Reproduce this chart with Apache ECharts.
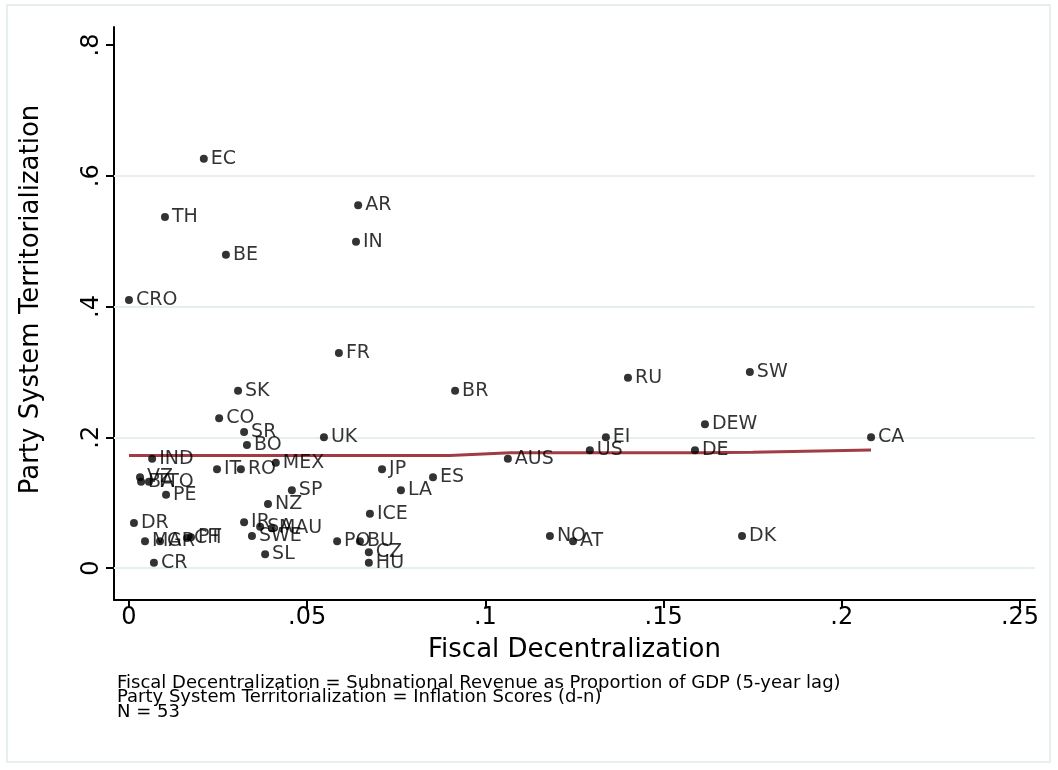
<!DOCTYPE html>
<html>
<head>
<meta charset="utf-8">
<script src="https://cdn.jsdelivr.net/npm/echarts@6/dist/echarts.min.js"></script>
<style>
  html, body { margin: 0; padding: 0; background: #ffffff; }
  #chart { width: 1058px; height: 770px; }
</style>
</head>
<body>
<div id="chart"></div>
<script>
// Country codes and their values
const countries = ['EC','AR','IN','TH','BE','CRO','FR','SK','BR','RU','SW','CO','SR','BO','UK','DEW','EI','CA','US','DE','AUS','IND','IT','RO','MEX','JP','ES','LA','SP','NZ','ICE','VZ','BA','TTO','PE','DR','MA','GR','CH','PT','CR','IR','SA','MAU','SWE','SL','PO','BU','CZ','HU','NO','AT','DK'];
// Subnational revenue as proportion of GDP (5-year lag)
const fiscalDecentralization = [0.0210,0.0643,0.0637,0.0101,0.0272,0.0000,0.0589,0.0306,0.0915,0.1400,0.1742,0.0253,0.0323,0.0331,0.0547,0.1616,0.1338,0.2082,0.1293,0.1588,0.1063,0.0065,0.0247,0.0314,0.0412,0.0710,0.0853,0.0763,0.0457,0.0390,0.0676,0.0031,0.0034,0.0056,0.0104,0.0014,0.0045,0.0087,0.0163,0.0174,0.0070,0.0323,0.0368,0.0401,0.0345,0.0382,0.0584,0.0648,0.0673,0.0673,0.1181,0.1246,0.1720];
// Inflation scores (d-n)
const territorialization = [0.626,0.555,0.499,0.537,0.479,0.410,0.329,0.271,0.271,0.291,0.300,0.229,0.208,0.188,0.200,0.220,0.200,0.200,0.180,0.180,0.167,0.167,0.151,0.151,0.161,0.151,0.139,0.119,0.119,0.098,0.083,0.139,0.132,0.132,0.112,0.069,0.041,0.041,0.046,0.047,0.008,0.070,0.063,0.061,0.049,0.021,0.041,0.041,0.024,0.008,0.049,0.041,0.049];

// Lowess smooth
const lowessX = [0.0000,0.0900,0.1070,0.1300,0.1600,0.1750,0.2082];
const lowessY = [0.1720,0.1720,0.1765,0.1765,0.1765,0.1770,0.1805];

// Axis ticks
const xTicks = [0,0.05,0.1,0.15,0.2,0.25];
const xTickLabels = ['0','.05','.1','.15','.2','.25'];
const yTicks = [0,0.2,0.4,0.6,0.8];
const yTickLabels = ['0','.2','.4','.6','.8'];
const yGridValues = [0,0.2,0.4,0.6];

const xTitle = 'Fiscal Decentralization';
const yTitle = 'Party System Territorialization';
const footnotes = [
  'Fiscal Decentralization = Subnational Revenue as Proportion of GDP (5-year lag)',
  'Party System Territorialization = Inflation Scores (d-n)',
  'N = 53'
];

const FONT = 'DejaVu Sans';

function tickLabel(ticks, labels) {
  return function (v) {
    for (let i = 0; i < ticks.length; i++) {
      if (Math.abs(ticks[i] - v) < 1e-9) return labels[i];
    }
    return '';
  };
}

const points = countries.map((c, i) => ({ name: c, value: [fiscalDecentralization[i], territorialization[i]] }));
const smooth = lowessX.map((x, i) => [x, lowessY[i]]);

const chart = echarts.init(document.getElementById('chart'), null, { renderer: 'canvas' });
chart.setOption({
  animation: false,
  backgroundColor: '#ffffff',
  textStyle: { fontFamily: FONT },
  grid: { left: 114, right: 23, top: 27, bottom: 170, containLabel: false },
  xAxis: {
    type: 'value',
    min: -0.0042,
    max: 0.2542,
    name: xTitle,
    nameLocation: 'middle',
    nameGap: 37,
    nameTextStyle: { fontFamily: FONT, fontSize: 26, color: '#000' },
    axisLine: { show: true, onZero: false, lineStyle: { color: '#000', width: 2 } },
    axisTick: { show: true, customValues: xTicks, length: 8, lineStyle: { color: '#000', width: 2 } },
    axisLabel: { customValues: xTicks, formatter: tickLabel(xTicks, xTickLabels), fontFamily: FONT, fontSize: 24, color: '#000', margin: 6 },
    splitLine: { show: false }
  },
  yAxis: {
    type: 'value',
    min: -0.0489,
    max: 0.8275,
    name: yTitle,
    nameLocation: 'middle',
    nameGap: 70,
    nameRotate: 90,
    nameTextStyle: { fontFamily: FONT, fontSize: 26, color: '#000', padding: [0, 0, 0, 28] },
    axisLine: { show: true, onZero: false, lineStyle: { color: '#000', width: 2 } },
    axisTick: { show: true, customValues: yTicks, length: 8, lineStyle: { color: '#000', width: 2 } },
    axisLabel: { customValues: yTicks, formatter: tickLabel(yTicks, yTickLabels), rotate: 90, fontFamily: FONT, fontSize: 24, color: '#000', margin: 10 },
    splitLine: { show: false }
  },
  series: [
    {
      type: 'scatter',
      data: points,
      symbol: 'circle',
      symbolSize: 8,
      itemStyle: { color: '#000' },
      label: {
        show: true,
        position: 'right',
        distance: 3,
        offset: [0, 3],
        formatter: p => p.name,
        fontFamily: FONT,
        fontSize: 19,
        color: '#000'
      },
      labelLayout: { hideOverlap: false },
      emphasis: { disabled: true },
      z: 3,
      markLine: {
        silent: true,
        symbol: 'none',
        label: { show: false },
        lineStyle: { color: '#e6eff0', width: 2, type: 'solid' },
        data: yGridValues.map(v => ({ yAxis: v })),
        z: 1
      }
    },
    {
      type: 'line',
      data: smooth,
      showSymbol: false,
      smooth: false,
      lineStyle: { color: '#a03c44', width: 3 },
      emphasis: { disabled: true },
      z: 2
    }
  ],
  graphic: [
    {
      type: 'rect',
      shape: { x: 7, y: 5, width: 1043, height: 757 },
      style: { fill: 'none', stroke: '#e6eef0', lineWidth: 2 },
      silent: true,
      z: -1
    },
    {
      type: 'text',
      left: 117,
      top: 674,
      style: {
        text: footnotes.join('\n'),
        font: '18px "' + FONT + '"',
        lineHeight: 14.5,
        fill: '#000'
      }
    }
  ]
});
</script>
</body>
</html>
